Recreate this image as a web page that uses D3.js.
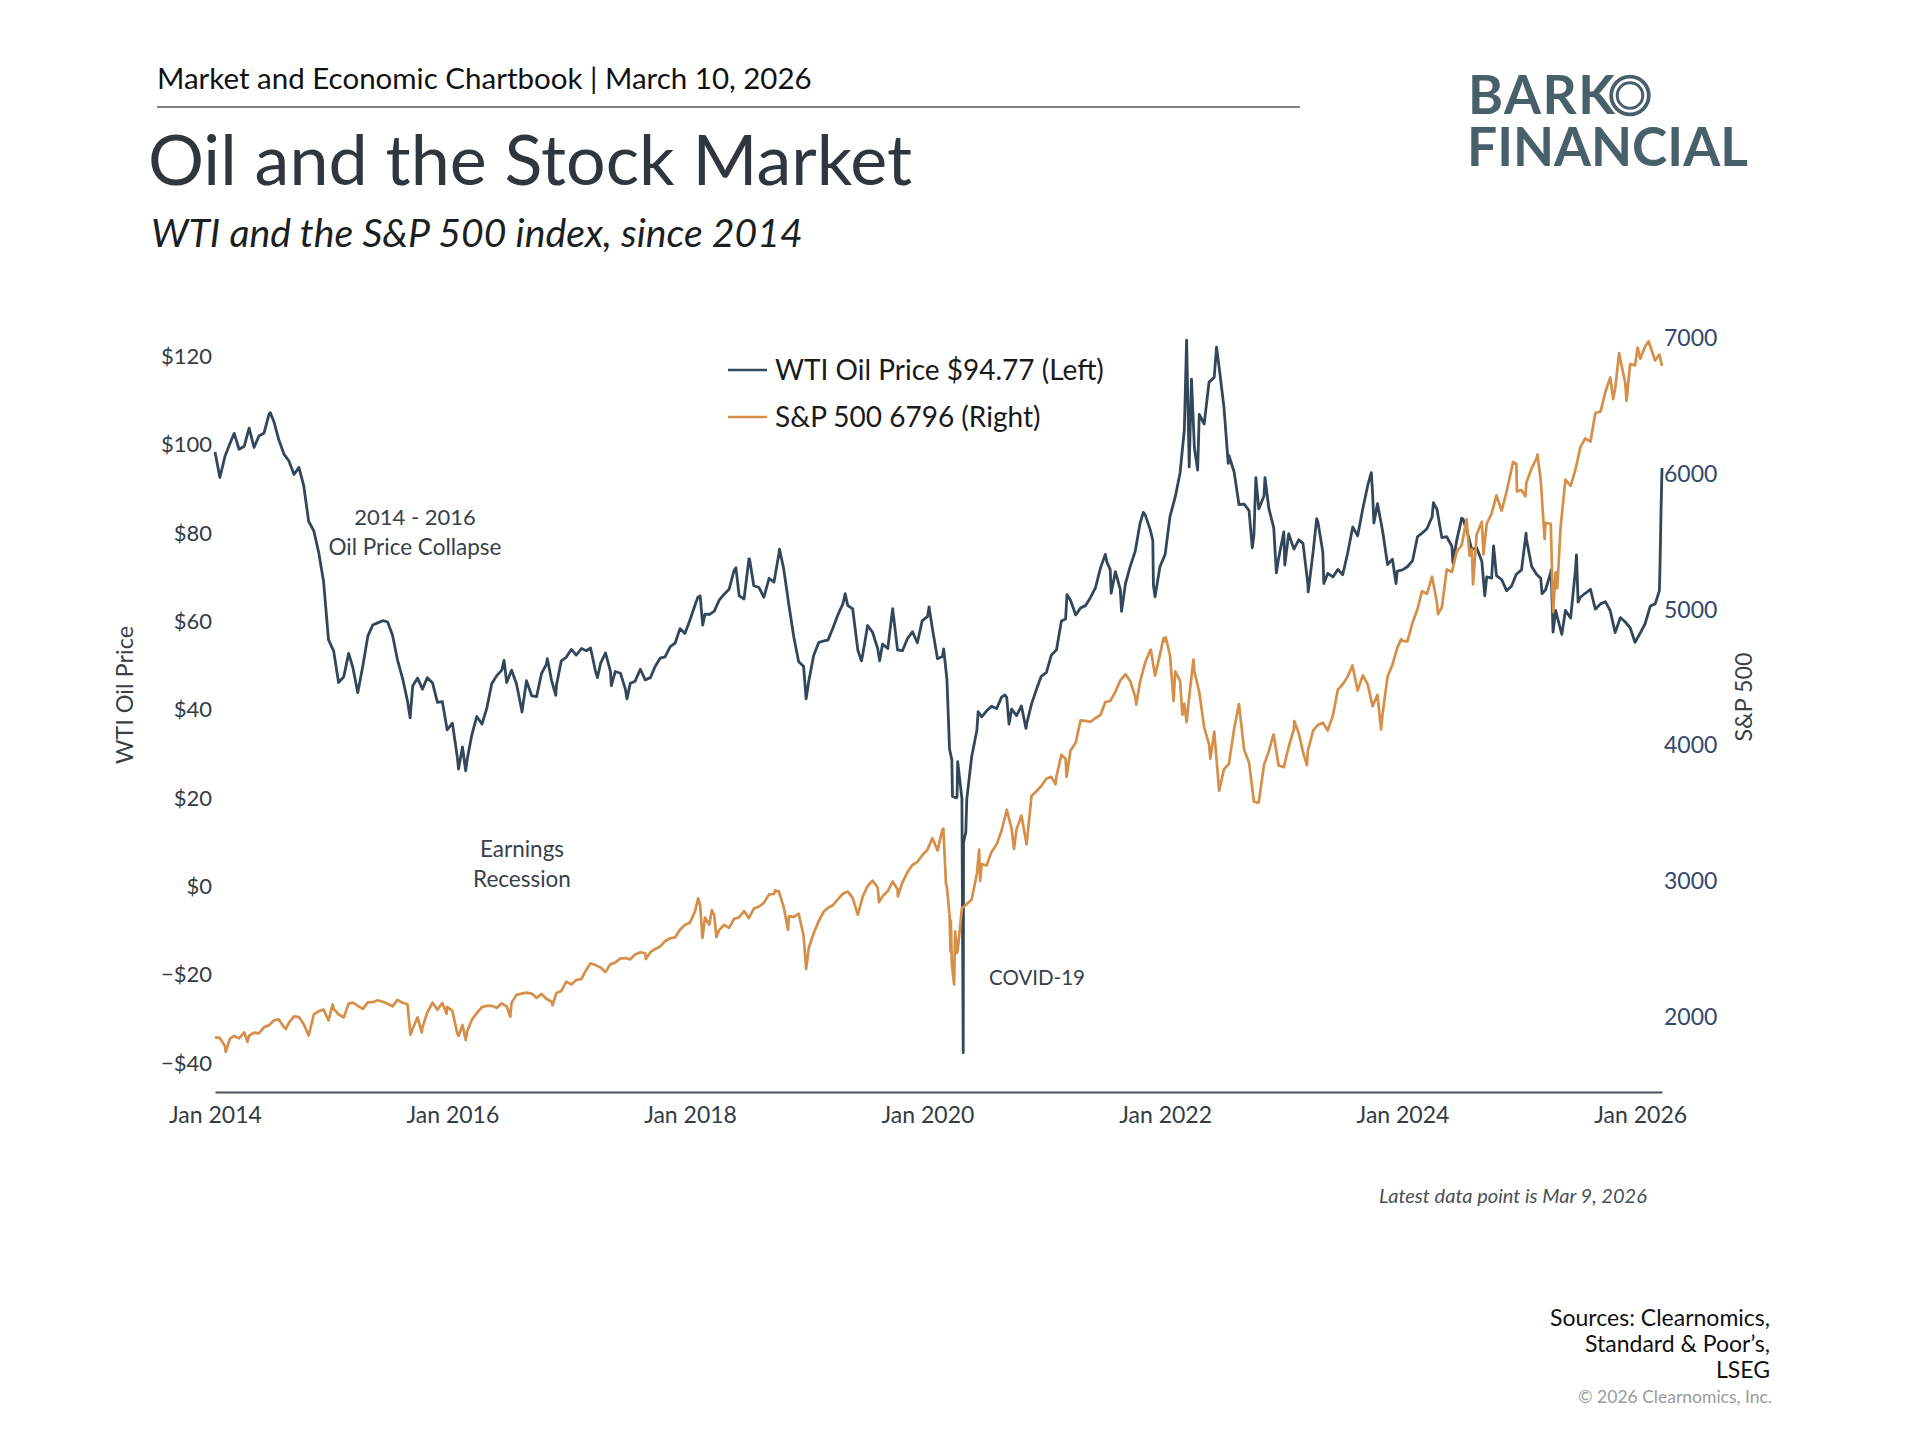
<!DOCTYPE html>
<html>
<head>
<meta charset="utf-8">
<script src="https://cdn.jsdelivr.net/npm/d3@7/dist/d3.min.js"></script>
<style>
  html, body { margin: 0; padding: 0; background: #fff; }
  svg { display: block; font-family: "Lato", "Noto Sans", sans-serif; }
</style>
</head>
<body>
<svg id="chart" width="1920" height="1440"></svg>
<script>
// ---------------- DATA (semi-monthly samples: 1st and 16th of each month) ----------------
const wti2014 = [98.4, 92.6, 97.5, 100.3, 102.6, 99.0, 99.7, 103.8, 99.4, 102.0, 102.7, 106.9, 105.3, 101.2, 97.9, 96.4, 93.3, 94.9, 90.7, 82.7, 80.5, 75.6, 69.0, 55.9];
const wti2015 = [53.3, 46.2, 47.5, 52.8, 49.6, 43.9, 50.1, 56.7, 59.2, 59.7, 60.2, 59.9, 56.9, 51.4, 47.1, 42.0, 45.4, 47.2, 44.7, 47.3, 46.1, 41.7, 41.9, 35.5];
const wti2016 = [37.0, 29.4, 31.6, 29.0, 34.4, 38.5, 36.8, 40.4, 45.9, 47.7, 49.0, 46.2, 49.0, 45.9, 40.1, 46.6, 43.2, 43.0, 48.2, 50.3, 46.7, 45.6, 51.1, 51.9];
const wti2017 = [53.7, 52.4, 53.9, 53.4, 54.0, 48.8, 50.6, 52.9, 48.8, 48.7, 48.3, 44.7, 46.0, 46.5, 49.2, 46.8, 47.3, 49.9, 51.7, 52.0, 54.3, 55.1, 58.4, 57.3];
const wti2018 = [60.4, 63.7, 65.8, 61.7, 61.6, 62.3, 64.9, 66.2, 67.3, 71.5, 65.8, 65.1, 74.2, 68.1, 67.7, 65.5, 69.8, 68.9, 75.3, 71.9, 63.7, 56.5, 50.9, 49.9];
const wti2019 = [46.5, 52.3, 55.3, 55.6, 55.8, 58.5, 61.6, 64.0, 63.6, 62.9, 53.5, 52.5, 59.1, 57.6, 53.9, 54.9, 53.9, 62.9, 53.6, 53.4, 56.2, 57.7, 55.2, 60.2];
const wti2020 = [61.1, 58.5, 51.6, 52.1, 46.8, 28.7, 20.3, 19.9, 19.8, 29.4, 35.4, 38.4, 39.8, 40.8, 40.3, 42.9, 42.8, 40.2, 38.7, 40.9, 36.8, 41.3, 44.6, 47.6];
const wti2021 = [48.5, 52.4, 53.6, 60.1, 60.6, 64.8, 61.5, 63.1, 63.6, 65.4, 67.7, 72.1, 75.2, 71.8, 71.3, 67.3, 68.6, 72.6, 75.9, 82.3, 84.1, 80.8, 65.6, 72.4];
const wti2022 = [75.2, 83.8, 88.2, 93.7, 103.4, 95.0, 99.3, 106.9, 104.7, 114.2, 115.3, 117.6, 108.4, 97.6, 93.9, 86.5, 86.6, 85.1, 79.5, 85.5, 88.4, 85.6, 81.2, 74.3];
const wti2023 = [80.3, 79.9, 76.4, 78.5, 77.7, 68.4, 75.7, 82.5, 75.7, 70.9, 70.1, 71.8, 70.6, 75.4, 81.4, 79.4, 85.6, 90.8, 89.0, 86.7, 80.4, 72.9, 74.1, 71.4];
const wti2024 = [71.7, 72.4, 73.8, 79.2, 80.0, 81.0, 83.7, 85.4, 79.0, 79.2, 77.0, 78.5, 83.4, 80.8, 76.3, 76.7, 73.6, 70.1, 69.8, 70.4, 69.5, 67.0, 68.0, 70.7];
const wti2025 = [71.7, 78.7, 72.5, 70.7, 69.8, 67.2, 71.2, 62.5, 58.2, 62.5, 60.8, 71.8, 65.5, 66.4, 67.3, 62.8, 64.0, 64.5, 62.4, 57.5, 60.9, 59.9, 58.6, 55.3];
const wti2026 = [57.4, 59.5, 63.5, 64.0, 67.0];
// dated extremes between the regular samples
const wtiEvents = [
  ["2014-06-20", 107.3], ["2015-08-24", 38.2], ["2016-01-20", 26.6], ["2016-02-11", 26.2],
  ["2016-06-08", 51.2], ["2016-08-02", 39.5], ["2016-10-19", 51.6], ["2016-11-14", 43.3],
  ["2017-03-22", 47.3], ["2017-05-04", 45.5], ["2017-06-21", 42.5],
  ["2018-01-25", 65.5], ["2018-02-09", 59.2], ["2018-05-22", 72.2], ["2018-07-03", 74.1],
  ["2018-10-03", 76.4], ["2018-12-24", 42.5],
  ["2019-04-23", 66.3], ["2019-06-12", 51.1], ["2019-08-07", 51.1],
  ["2020-01-06", 63.3], ["2020-02-20", 53.8], ["2020-03-09", 31.1], ["2020-03-18", 20.4],
  ["2020-03-30", 20.1], ["2020-04-03", 28.3], ["2020-04-20", -37.6], ["2020-04-21", 10.0],
  ["2020-04-28", 12.3], ["2020-06-05", 39.6], ["2020-08-26", 43.4], ["2020-09-08", 36.8],
  ["2020-10-30", 35.8],
  ["2021-03-05", 66.1], ["2021-07-06", 73.4], ["2021-07-19", 66.4], ["2021-08-20", 62.3],
  ["2021-10-26", 84.7], ["2021-11-24", 78.4], ["2021-11-26", 68.2],
  ["2022-03-08", 123.7], ["2022-03-23", 114.9], ["2022-04-11", 94.3], ["2022-06-08", 122.1],
  ["2022-07-14", 95.8], ["2022-09-26", 76.7], ["2022-10-07", 92.6], ["2022-11-04", 92.6],
  ["2022-12-09", 71.0],
  ["2023-01-04", 72.8], ["2023-03-17", 66.7], ["2023-04-12", 83.3], ["2023-05-04", 68.6],
  ["2023-09-27", 93.7], ["2023-10-05", 82.3], ["2023-12-12", 68.6],
  ["2024-04-05", 86.9], ["2024-06-04", 73.3], ["2024-07-05", 83.2], ["2024-09-10", 65.8],
  ["2024-10-07", 77.1],
  ["2025-01-15", 80.0], ["2025-03-05", 66.3], ["2025-04-02", 71.7], ["2025-04-08", 57.6],
  ["2025-05-05", 57.1], ["2025-06-19", 75.1], ["2025-06-24", 64.4], ["2025-12-16", 55.3],
  ["2026-03-03", 73.0], ["2026-03-06", 85.0], ["2026-03-09", 94.77]
];

const spx2014 = [1848, 1845, 1782, 1840, 1859, 1841, 1885, 1862, 1884, 1878, 1924, 1937, 1973, 1981, 1925, 1955, 2003, 1998, 1946, 1862, 2018, 2041, 2053, 1973];
const spx2015 = [2059, 2019, 1995, 2097, 2105, 2081, 2059, 2106, 2108, 2122, 2111, 2096, 2077, 2125, 2104, 2092, 1914, 1996, 1923, 2033, 2104, 2053, 2102, 2073];
const spx2016 = [2044, 1880, 1940, 1895, 1978, 2027, 2072, 2081, 2081, 2066, 2099, 2077, 2103, 2162, 2171, 2178, 2171, 2139, 2168, 2133, 2111, 2176, 2191, 2258];
const spx2017 = [2239, 2271, 2279, 2347, 2395, 2381, 2363, 2329, 2388, 2400, 2431, 2433, 2423, 2459, 2476, 2468, 2476, 2500, 2519, 2557, 2579, 2585, 2642, 2676];
const spx2018 = [2695, 2776, 2822, 2732, 2678, 2752, 2641, 2678, 2655, 2722, 2734, 2780, 2727, 2798, 2813, 2840, 2902, 2905, 2924, 2809, 2740, 2736, 2760, 2600];
const spx2019 = [2507, 2616, 2707, 2775, 2803, 2822, 2867, 2907, 2923, 2876, 2752, 2886, 2964, 3004, 2953, 2888, 2926, 2997, 2940, 2990, 3067, 3120, 3141, 3191];
const spx2020 = [3231, 3317, 3225, 3380, 2954, 2386, 2470, 2800, 2831, 2864, 3055, 3125, 3115, 3215, 3271, 3373, 3526, 3385, 3380, 3483, 3270, 3627, 3662, 3701];
const spx2021 = [3756, 3768, 3774, 3932, 3901, 3963, 4020, 4185, 4181, 4173, 4202, 4224, 4320, 4327, 4395, 4479, 4524, 4473, 4357, 4471, 4613, 4701, 4513, 4669];
const spx2022 = [4766, 4662, 4546, 4475, 4306, 4357, 4545, 4392, 4132, 4008, 4101, 3667, 3825, 3863, 4119, 4305, 3967, 3873, 3586, 3583, 3856, 3958, 4077, 3852];
const spx2023 = [3840, 3990, 4119, 4090, 3951, 3960, 4109, 4151, 4168, 4110, 4221, 4410, 4450, 4505, 4577, 4404, 4516, 4450, 4288, 4373, 4237, 4508, 4595, 4719];
const spx2024 = [4770, 4766, 4906, 5005, 5137, 5117, 5243, 5051, 5018, 5297, 5278, 5431, 5475, 5667, 5446, 5554, 5648, 5634, 5709, 5842, 5729, 5870, 6032, 6074];
const spx2025 = [5882, 5937, 6041, 6114, 5955, 5639, 5633, 5275, 5604, 5958, 5912, 6033, 6198, 6263, 6238, 6449, 6460, 6606, 6711, 6629, 6840, 6672, 6812, 6800];
const spx2026 = [6850, 6940, 6939, 6836, 6880];
const spxEvents = [
  ["2014-02-03", 1741], ["2014-04-11", 1815], ["2014-08-07", 1910], ["2014-12-29", 2091],
  ["2015-08-25", 1868], ["2015-09-29", 1884], ["2015-12-14", 2022],
  ["2016-01-20", 1859], ["2016-02-11", 1829], ["2016-06-27", 2001], ["2016-11-04", 2085],
  ["2017-08-18", 2426],
  ["2018-01-26", 2873], ["2018-02-08", 2581], ["2018-03-09", 2786], ["2018-03-23", 2588],
  ["2018-09-20", 2931], ["2018-10-29", 2641], ["2018-12-24", 2351],
  ["2019-08-05", 2845], ["2019-10-02", 2888],
  ["2020-02-19", 3386], ["2020-02-27", 2979], ["2020-03-09", 2747], ["2020-03-12", 2481],
  ["2020-03-13", 2711], ["2020-03-23", 2237], ["2020-03-26", 2630], ["2020-04-03", 2489],
  ["2020-06-08", 3232], ["2020-06-11", 3002], ["2020-09-23", 3237],
  ["2021-01-29", 3714], ["2021-03-04", 3768], ["2021-10-04", 4300], ["2021-11-18", 4705],
  ["2021-12-27", 4791],
  ["2022-01-03", 4797], ["2022-01-27", 4327], ["2022-02-23", 4226], ["2022-03-08", 4171],
  ["2022-03-29", 4632], ["2022-05-20", 3901], ["2022-10-12", 3577], ["2022-11-30", 4080],
  ["2023-02-02", 4180], ["2023-03-13", 3855], ["2023-07-31", 4589], ["2023-10-27", 4117],
  ["2023-12-28", 4783],
  ["2024-04-19", 4967], ["2024-07-25", 5399], ["2024-08-05", 5186], ["2024-09-06", 5408],
  ["2024-12-06", 6090], ["2024-12-18", 5872],
  ["2025-01-13", 5836], ["2025-02-19", 6144], ["2025-03-13", 5521], ["2025-04-08", 4982],
  ["2025-04-21", 5158], ["2025-10-10", 6552], ["2025-10-28", 6890], ["2025-11-20", 6538],
  ["2025-12-24", 6932],
  ["2026-01-27", 6978], ["2026-03-09", 6796]
];

const wtiYears = [wti2014, wti2015, wti2016, wti2017, wti2018, wti2019, wti2020, wti2021, wti2022, wti2023, wti2024, wti2025, wti2026];
const spxYears = [spx2014, spx2015, spx2016, spx2017, spx2018, spx2019, spx2020, spx2021, spx2022, spx2023, spx2024, spx2025, spx2026];

const leftTicks = [-40, -20, 0, 20, 40, 60, 80, 100, 120];
const rightTicks = [2000, 3000, 4000, 5000, 6000, 7000];
const xTickYears = [2014, 2016, 2018, 2020, 2022, 2024, 2026];
const legendLabels = ["WTI Oil Price $94.77 (Left)", "S&P 500 6796 (Right)"];

// ---------------- BUILD SERIES ----------------
const parse = d3.utcParse("%Y-%m-%d");
function build(years, events) {
  const pts = [];
  years.forEach((arr, yi) => {
    arr.forEach((v, i) => {
      pts.push({ date: new Date(Date.UTC(2014 + yi, Math.floor(i / 2), i % 2 ? 16 : 1)), value: v });
    });
  });
  events.forEach(([d, v]) => pts.push({ date: parse(d), value: v }));
  pts.sort((a, b) => a.date - b.date);
  return pts;
}
const wti = build(wtiYears, wtiEvents);
const spx = build(spxYears, spxEvents);

// ---------------- LAYOUT ----------------
const svg = d3.select("#chart");
svg.append("rect").attr("width", 1920).attr("height", 1440).attr("fill", "#fff");

const plot = { left: 215, right: 1662, top: 330, bottom: 1092 };
const x = d3.scaleUtc()
  .domain([new Date(Date.UTC(2014, 0, 1)), parse("2026-03-09")])
  .range([plot.left, plot.right]);
const yL = d3.scaleLinear().domain([-46.5, 126]).range([plot.bottom, plot.top]);
const yR = d3.scaleLinear().domain([1446, 7061]).range([plot.bottom, plot.top]);

const oilColor = "#33475a";
const spxColor = "#d68f48";
const textDark = "#333b44";

// ---------------- HEADER ----------------
svg.append("text").attr("x", 157).attr("y", 89)
  .attr("font-size", 29.5).attr("fill", "#111")
  .text("Market and Economic Chartbook | March 10, 2026");
svg.append("line").attr("x1", 157).attr("x2", 1300).attr("y1", 107).attr("y2", 107)
  .attr("stroke", "#555b61").attr("stroke-width", 1.5);
svg.append("text").attr("x", 148).attr("y", 185)
  .attr("font-size", 70).attr("fill", "#2f363d")
  .text("Oil and the Stock Market");
svg.append("text").attr("x", 151).attr("y", 247)
  .attr("font-size", 39.2).attr("font-style", "italic").attr("fill", "#1c1f22")
  .text("WTI and the S&P 500 index, since 2014");

// logo (one text element, two lines)
const logoColor = "#48606a";
const logo = svg.append("text").attr("font-size", 53.3).attr("font-weight", 700).attr("fill", logoColor);
logo.append("tspan").attr("x", 1468).attr("y", 114).attr("letter-spacing", 1.5).text("BARK");
logo.append("tspan").attr("x", 1467).attr("y", 166).attr("letter-spacing", 0).text("FINANCIAL");
svg.append("circle").attr("cx", 1630).attr("cy", 95.5).attr("r", 18.8)
  .attr("fill", "none").attr("stroke", logoColor).attr("stroke-width", 3.8);
svg.append("circle").attr("cx", 1630).attr("cy", 95.5).attr("r", 12.8)
  .attr("fill", "none").attr("stroke", logoColor).attr("stroke-width", 3);

// ---------------- AXES ----------------
const gx = svg.append("g").attr("transform", `translate(0,${plot.bottom})`)
  .call(d3.axisBottom(x)
    .tickValues(xTickYears.map(yv => new Date(Date.UTC(yv, 0, 1))))
    .tickFormat(d3.utcFormat("Jan %Y"))
    .tickSize(0).tickPadding(15));
gx.select(".domain").attr("stroke", "#4a525a").attr("stroke-width", 2);
gx.selectAll("text").attr("font-size", 23).attr("fill", textDark).attr("font-family", "Lato");

const gl = svg.append("g").attr("transform", `translate(${plot.left},0)`)
  .call(d3.axisLeft(yL).tickValues(leftTicks)
    .tickFormat(d => d < 0 ? "\u2212$" + (-d) : "$" + d)
    .tickSize(0).tickPadding(3));
gl.select(".domain").remove();
gl.selectAll("text").attr("font-size", 22).attr("fill", textDark).attr("font-family", "Lato");

const gr = svg.append("g").attr("transform", `translate(${plot.right},0)`)
  .call(d3.axisRight(yR).tickValues(rightTicks).tickFormat(d3.format("d"))
    .tickSize(0).tickPadding(2));
gr.select(".domain").remove();
gr.selectAll("text").attr("font-size", 23).attr("fill", "#33476a").attr("font-family", "Lato");

svg.append("text").attr("transform", "translate(133,695) rotate(-90)")
  .attr("text-anchor", "middle").attr("font-size", 23.5).attr("fill", "#3a3f45")
  .text("WTI Oil Price");
svg.append("text").attr("transform", "translate(1752,697) rotate(-90)")
  .attr("text-anchor", "middle").attr("font-size", 23.3).attr("fill", "#3a3f45")
  .text("S&P 500");

// ---------------- LINES ----------------
const lineL = d3.line().x(d => x(d.date)).y(d => yL(d.value));
const lineR = d3.line().x(d => x(d.date)).y(d => yR(d.value));
svg.append("path").datum(wti).attr("d", lineL)
  .attr("fill", "none").attr("stroke", oilColor).attr("stroke-width", 2.8)
  .attr("stroke-linejoin", "round");
svg.append("path").datum(spx).attr("d", lineR)
  .attr("fill", "none").attr("stroke", spxColor).attr("stroke-width", 2.7)
  .attr("stroke-linejoin", "round");

// ---------------- LEGEND ----------------
const legendColors = [oilColor, spxColor];
legendLabels.forEach((lab, i) => {
  const cy = 370 + i * 47;
  svg.append("line").attr("x1", 728).attr("x2", 767).attr("y1", cy).attr("y2", cy)
    .attr("stroke", legendColors[i]).attr("stroke-width", 2.6);
  svg.append("text").attr("x", 775).attr("y", cy).attr("dy", "0.36em")
    .attr("font-size", 28).attr("fill", "#1a1a1a").text(lab);
});

// ---------------- ANNOTATIONS ----------------
const ann = [
  { x: 415, y: 525, t: "2014 - 2016", s: 22 }, { x: 415, y: 555, t: "Oil Price Collapse", s: 22.5 },
  { x: 522, y: 857, t: "Earnings", s: 22.5 }, { x: 522, y: 887, t: "Recession", s: 22.5 },
  { x: 1037, y: 985, t: "COVID-19", s: 20.5 }
];
ann.forEach(a => svg.append("text").attr("x", a.x).attr("y", a.y)
  .attr("text-anchor", "middle").attr("font-size", a.s).attr("fill", "#38404a").text(a.t));

// ---------------- FOOTER ----------------
svg.append("text").attr("x", 1379).attr("y", 1203)
  .attr("font-size", 20).attr("font-style", "italic").attr("fill", "#4a4f55")
  .text("Latest data point is Mar 9, 2026");
["Sources: Clearnomics,", "Standard & Poor\u2019s,", "LSEG"].forEach((t, i) =>
  svg.append("text").attr("x", 1770).attr("y", 1326 + i * 26)
    .attr("text-anchor", "end").attr("font-size", 23).attr("fill", "#111").text(t));
svg.append("text").attr("x", 1772).attr("y", 1403)
  .attr("text-anchor", "end").attr("font-size", 17.5).attr("fill", "#9a9a9a")
  .text("\u00a9 2026 Clearnomics, Inc.");
</script>
</body>
</html>
